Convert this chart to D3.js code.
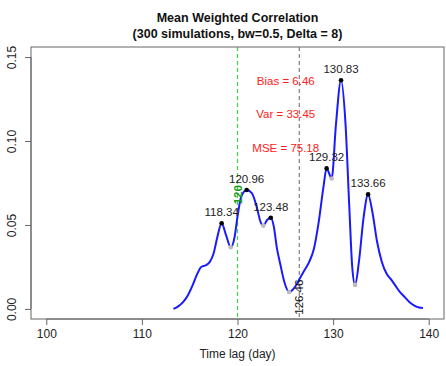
<!DOCTYPE html>
<html>
<head>
<meta charset="utf-8">
<script src="https://cdn.jsdelivr.net/npm/d3@7"></script>
<style>
  body { margin: 0; background: #fff; }
  text { font-family: "Liberation Sans", Arial, sans-serif; }
</style>
</head>
<body>
<div id="chart"></div>
<script>
// density curve
const lags = [113.3, 113.8, 114.3, 114.8, 115.3, 115.8, 116.2, 116.7, 117.1, 117.5, 117.9, 118.34,
  118.8, 119.3, 119.7, 120.0, 120.4, 120.96, 121.5, 122.0, 122.4, 122.7, 123.1, 123.48,
  123.8, 124.1, 124.5, 124.9, 125.4, 126.0, 126.5, 127.0, 127.5, 128.0, 128.5, 129.0, 129.32,
  129.85, 130.3, 130.83, 131.3, 131.7, 132.0, 132.3, 132.7, 133.2, 133.66, 134.1, 134.6,
  135.1, 135.6, 136.0, 136.5, 137.0, 137.5, 138.0, 138.5, 139.0, 139.4];
const density = [0.0, 0.0015, 0.004, 0.008, 0.014, 0.021, 0.025, 0.026, 0.028, 0.033, 0.043, 0.051,
  0.044, 0.0367, 0.043, 0.055, 0.067, 0.0708, 0.069, 0.061, 0.052, 0.0496, 0.053, 0.0543,
  0.049, 0.037, 0.026, 0.016, 0.0101, 0.013, 0.018, 0.023, 0.028, 0.036, 0.052, 0.073, 0.0837,
  0.0777, 0.110, 0.1362, 0.110, 0.060, 0.025, 0.0143, 0.028, 0.055, 0.0682, 0.058, 0.040,
  0.028, 0.021, 0.018, 0.014, 0.010, 0.007, 0.004, 0.002, 0.0008, 0.0005];

const peakLags = [118.34, 120.96, 123.48, 129.32, 130.83, 133.66];
const troughLags = [119.3, 122.7, 125.4, 129.85, 132.3];

const trueLag = 120;
const estLag = 126.46;
const statLabels = ['Bias = 6.46', 'Var = 33.45', 'MSE = 75.18'];
const statY = [0.136, 0.116, 0.096];

const xTicks = [100, 110, 120, 130, 140];
const yTicks = [0, 0.05, 0.10, 0.15];

const width = 446, height = 366;
const box = { left: 31, right: 444, top: 47, bottom: 319 };

const svg = d3.select('#chart').append('svg')
  .attr('width', width)
  .attr('height', height);

// R style 4% padding around the limits
const x = d3.scaleLinear().domain([98.4, 141.6]).range([box.left, box.right]);
const y = d3.scaleLinear().domain([-0.006, 0.156]).range([box.bottom, box.top]);

const pts = lags.map((d, i) => ({ x: d, y: density[i] }));
const lookup = v => pts.find(p => Math.abs(p.x - v) < 1e-6);

// titles
svg.append('text').attr('x', 237.5).attr('y', 22)
  .attr('text-anchor', 'middle').attr('font-weight', 'bold').attr('font-size', 12.5)
  .attr('fill', '#111').text('Mean Weighted Correlation');
svg.append('text').attr('x', 237.5).attr('y', 37.5)
  .attr('text-anchor', 'middle').attr('font-weight', 'bold').attr('font-size', 12.5)
  .attr('fill', '#111').text('(300 simulations, bw=0.5, Delta = 8)');

// vertical reference lines
svg.append('line')
  .attr('x1', x(trueLag)).attr('x2', x(trueLag))
  .attr('y1', box.top).attr('y2', box.bottom)
  .attr('stroke', '#3ed83e').attr('stroke-width', 1.2).attr('stroke-dasharray', '4,3');
svg.append('line')
  .attr('x1', x(estLag)).attr('x2', x(estLag))
  .attr('y1', box.top).attr('y2', box.bottom)
  .attr('stroke', '#666').attr('stroke-dasharray', '4,3');

// curve
const line = d3.line()
  .x(d => x(d.x))
  .y(d => y(d.y))
  .curve(d3.curveMonotoneX);
svg.append('path')
  .datum(pts)
  .attr('fill', 'none')
  .attr('stroke', '#1a1aff')
  .attr('stroke-width', 2)
  .attr('d', line);

svg.selectAll('.trough').data(troughLags.map(lookup)).enter()
  .append('circle').attr('class', 'trough')
  .attr('cx', d => x(d.x)).attr('cy', d => y(d.y)).attr('r', 2.3)
  .attr('fill', '#bbbbbb');

svg.selectAll('.peak').data(peakLags.map(lookup)).enter()
  .append('circle').attr('class', 'peak')
  .attr('cx', d => x(d.x)).attr('cy', d => y(d.y)).attr('r', 2.3)
  .attr('fill', '#000');

svg.selectAll('.peaklab').data(peakLags.map(lookup)).enter()
  .append('text').attr('class', 'peaklab')
  .attr('x', d => x(d.x)).attr('y', d => y(d.y) - 7)
  .attr('text-anchor', 'middle').attr('font-size', 11.5).attr('fill', '#222')
  .text(d => d.x.toFixed(2));

// stats text
svg.selectAll('.stat').data(statLabels).enter()
  .append('text').attr('class', 'stat')
  .attr('x', x(125.05)).attr('y', (d, i) => y(statY[i]))
  .attr('dy', '0.35em')
  .attr('text-anchor', 'middle').attr('font-size', 11.5).attr('fill', '#ff2020')
  .text(d => d);

// rotated line labels
svg.append('text')
  .attr('transform', `translate(${x(trueLag) + 0.5},${y(0.068)}) rotate(-90)`)
  .attr('text-anchor', 'middle').attr('dy', '0.35em')
  .attr('font-size', 11.5).attr('font-weight', 'bold').attr('fill', '#1a9a1a')
  .text(trueLag);
svg.append('text')
  .attr('transform', `translate(${x(estLag)},${y(0.007)}) rotate(-90)`)
  .attr('text-anchor', 'middle').attr('dy', '0.35em')
  .attr('font-size', 11.5).attr('fill', '#111')
  .text(estLag.toFixed(2));

// box
svg.append('rect')
  .attr('x', box.left).attr('y', box.top)
  .attr('width', box.right - box.left).attr('height', box.bottom - box.top)
  .attr('fill', 'none').attr('stroke', '#666');

// axes
const xAxis = svg.append('g')
  .attr('transform', `translate(0,${box.bottom})`)
  .call(d3.axisBottom(x).tickValues(xTicks).tickSize(6).tickPadding(4).tickFormat(d3.format('d')));
const yAxis = svg.append('g')
  .attr('transform', `translate(${box.left},0)`)
  .call(d3.axisLeft(y).tickValues(yTicks).tickSize(6).tickFormat(d3.format('.2f')));
[xAxis, yAxis].forEach(g => {
  g.select('.domain').remove();
  g.selectAll('line').attr('stroke', '#666');
  g.selectAll('text').attr('font-size', 12).attr('fill', '#222')
    .style('font-family', '"Liberation Sans", Arial, sans-serif');
});
yAxis.selectAll('text')
  .attr('x', null).attr('dy', null)
  .attr('text-anchor', 'middle')
  .attr('transform', 'translate(-15,0) rotate(-90)');
// axis lines from first to last tick, like R
svg.append('line').attr('x1', x(100)).attr('x2', x(140))
  .attr('y1', box.bottom).attr('y2', box.bottom).attr('stroke', '#666');
svg.append('line').attr('x1', box.left).attr('x2', box.left)
  .attr('y1', y(0)).attr('y2', y(0.15)).attr('stroke', '#666');

svg.append('text').attr('x', 237.5).attr('y', 358)
  .attr('text-anchor', 'middle').attr('font-size', 12).attr('fill', '#222')
  .text('Time lag (day)');
</script>
</body>
</html>
